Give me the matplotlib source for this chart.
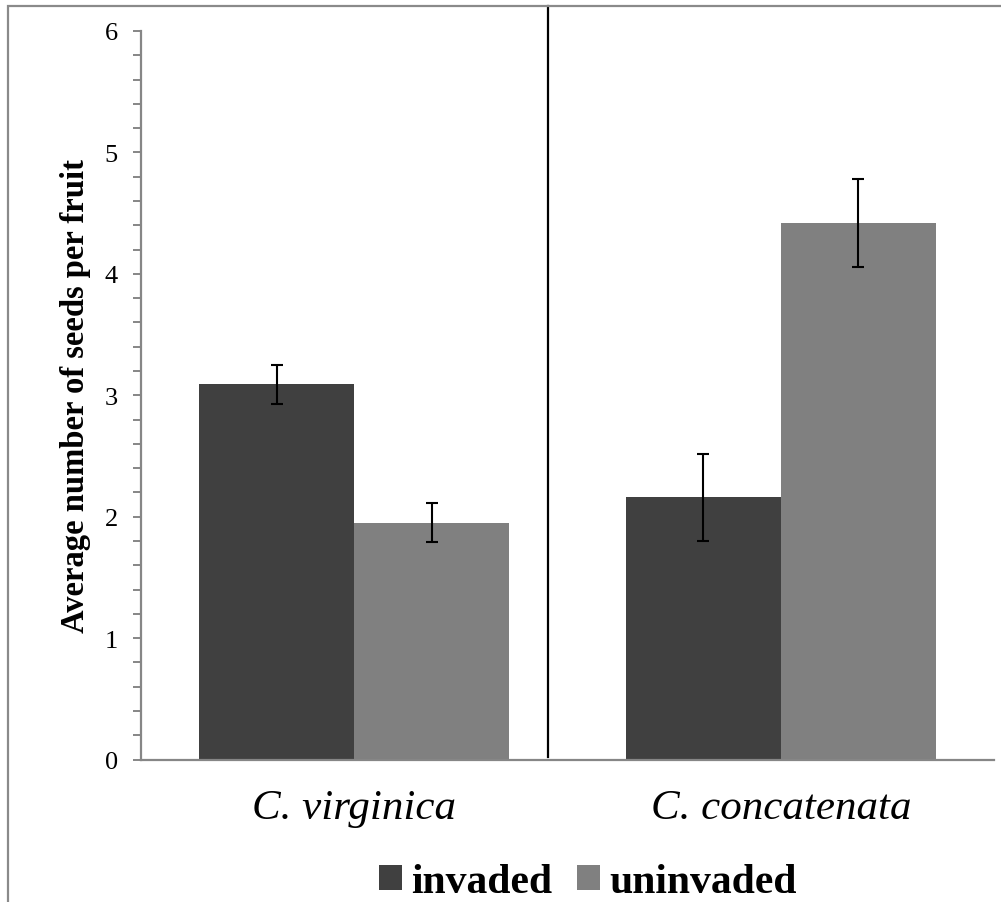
import matplotlib
matplotlib.use("Agg")
import matplotlib.pyplot as plt
import numpy as np
from matplotlib.patches import Rectangle

categories = ["C. virginica", "C. concatenata"]
series_names = ["invaded", "uninvaded"]
invaded = [3.09, 2.16]
invaded_err = [0.16, 0.36]
uninvaded = [1.95, 4.42]
uninvaded_err = [0.16, 0.36]
yticks = [0, 1, 2, 3, 4, 5, 6]
divider_x = 0.454

colors = ["#404040", "#808080"]
axis_gray = "#868686"

plt.rcParams['font.family'] = ['Liberation Serif', 'DejaVu Serif']

fig = plt.figure(figsize=(10.01, 9.03), dpi=100)
ax = fig.add_axes([0.1409, 1 - 760.5 / 903, 0.993 - 0.1409, (760.5 - 32) / 903])

x = np.arange(len(categories))
w = 0.3634
ax.bar(x - w / 2, invaded, w, color=colors[0], label=series_names[0])
ax.bar(x + w / 2, uninvaded, w, color=colors[1], label=series_names[1])
ax.errorbar(x - w / 2, invaded, yerr=invaded_err, fmt='none', ecolor='black',
            elinewidth=1.5, capsize=4.5, capthick=1.5)
ax.errorbar(x + w / 2, uninvaded, yerr=uninvaded_err, fmt='none', ecolor='black',
            elinewidth=1.5, capsize=4.5, capthick=1.5)

ax.plot([divider_x, divider_x], [0.02, 6.205], color='black', lw=1.6, clip_on=False)

ax.set_xlim(-0.5, 1.5)
ax.set_ylim(0, 6)
ax.set_yticks(yticks)
ax.set_yticks(np.arange(0, 6.01, 0.2), minor=True)
ax.tick_params(axis='y', which='both', direction='out', length=5.8, width=1.4,
               color=axis_gray, labelsize=19, pad=11)
ax.tick_params(axis='y', which='major', labelcolor='black')
ax.set_xticks(x)
ax.set_xticklabels(categories, fontsize=31, style='italic')
ax.tick_params(axis='x', length=0, pad=21)

for s in ['top', 'right']:
    ax.spines[s].set_visible(False)
for s in ['left', 'bottom']:
    ax.spines[s].set_color(axis_gray)
    ax.spines[s].set_linewidth(1.6)

ax.set_ylabel("Average number of seeds per fruit", fontsize=23.5, fontweight='bold', labelpad=10)

leg = ax.legend(loc='center', bbox_to_anchor=(0.524, -0.168), ncol=2, frameon=False,
                prop={'size': 30, 'weight': 'bold'}, handlelength=0.55, handleheight=0.55,
                handletextpad=0.22, columnspacing=0.6, borderaxespad=0, borderpad=0)

frame = Rectangle((8 / 1001, -0.1), 1.2, 1.1 - 7 / 903, transform=fig.transFigure,
                  fill=False, edgecolor='#8a8a8a', lw=1.6, clip_on=False)
fig.patches.append(frame)

fig.savefig("out.png", dpi=100)
